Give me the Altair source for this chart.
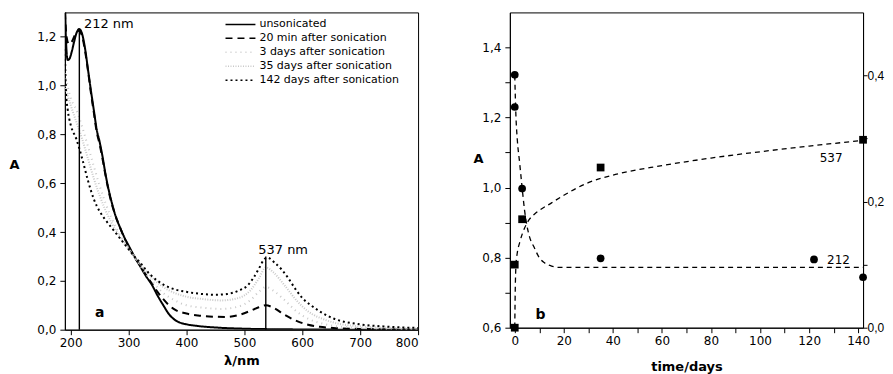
import altair as alt
import pandas as pd

FONT = "DejaVu Sans"

# ---------------- panel a : spectra ----------------
series_names = ["unsonicated", "20 min after sonication", "3 days after sonication",
                "35 days after sonication", "142 days after sonication"]

wl_unson = [190, 192, 195, 198, 202, 206, 210, 215, 220, 225, 230, 235, 240, 245, 250, 255, 260, 265,
            270, 277, 285, 294, 300, 310, 320, 330, 340, 350, 360, 370, 380, 390, 400, 420, 450, 500,
            550, 600, 700, 800]
a_unson = [1.40, 1.18, 1.105, 1.11, 1.14, 1.18, 1.215, 1.232, 1.21, 1.15, 1.065, 0.98, 0.90, 0.82, 0.77,
           0.71, 0.64, 0.58, 0.53, 0.47, 0.42, 0.372, 0.345, 0.30, 0.26, 0.22, 0.185, 0.14, 0.10, 0.063,
           0.04, 0.028, 0.022, 0.015, 0.009, 0.004, 0.002, 0.001, 0.0, 0.0]

wl_20min = [190, 193, 197, 202, 208, 214, 220, 225, 230, 235, 240, 245, 250, 255, 260, 265, 270, 277,
            285, 294, 300, 310, 320, 330, 340, 350, 360, 370, 380, 400, 420, 450, 470, 490, 510, 525,
            537, 550, 570, 590, 610, 630, 660, 700, 800]
a_20min = [1.30, 1.20, 1.17, 1.18, 1.21, 1.225, 1.20, 1.14, 1.06, 0.97, 0.89, 0.81, 0.76, 0.70, 0.635,
           0.575, 0.525, 0.47, 0.42, 0.37, 0.34, 0.30, 0.262, 0.225, 0.19, 0.155, 0.125, 0.10, 0.082,
           0.066, 0.058, 0.053, 0.052, 0.06, 0.077, 0.092, 0.10, 0.09, 0.06, 0.036, 0.02, 0.012, 0.006,
           0.003, 0.001]

wl_3d = [190, 200, 210, 220, 230, 240, 250, 260, 270, 280, 290, 300, 320, 340, 360, 380, 400, 430, 460,
         490, 510, 525, 537, 550, 570, 590, 610, 640, 680, 750, 800]
a_3d = [1.05, 0.95, 0.90, 0.83, 0.75, 0.67, 0.59, 0.52, 0.46, 0.41, 0.37, 0.335, 0.26, 0.20, 0.15, 0.12,
        0.10, 0.09, 0.085, 0.095, 0.12, 0.155, 0.175, 0.16, 0.12, 0.075, 0.045, 0.022, 0.01, 0.004, 0.002]

wl_35d = [190, 200, 210, 220, 230, 240, 250, 260, 270, 280, 290, 300, 320, 340, 360, 380, 400, 430, 460,
          490, 510, 525, 537, 550, 570, 590, 610, 640, 680, 750, 800]
a_35d = [1.00, 0.92, 0.85, 0.78, 0.70, 0.62, 0.55, 0.49, 0.44, 0.40, 0.36, 0.33, 0.27, 0.215, 0.175, 0.15,
         0.135, 0.125, 0.12, 0.13, 0.16, 0.21, 0.255, 0.235, 0.18, 0.12, 0.075, 0.04, 0.018, 0.008, 0.005]

wl_142d = [190, 192, 195, 200, 210, 220, 230, 240, 250, 260, 270, 280, 290, 300, 310, 320, 330, 340,
           360, 380, 400, 420, 450, 470, 490, 505, 515, 525, 535, 540, 552, 565, 575, 590, 600, 615,
           630, 655, 700, 750, 800]
a_142d = [1.15, 0.97, 0.90, 0.84, 0.78, 0.70, 0.61, 0.535, 0.485, 0.45, 0.42, 0.39, 0.36, 0.33, 0.30,
          0.275, 0.245, 0.22, 0.185, 0.165, 0.155, 0.148, 0.143, 0.146, 0.16, 0.18, 0.21, 0.25, 0.29,
          0.295, 0.275, 0.245, 0.214, 0.16, 0.13, 0.10, 0.075, 0.045, 0.022, 0.012, 0.007]

peak_wl = [215, 537]
peak_a = [1.232, 0.30]
peak_base = [0.0, 0.0]

ann_a_text = ["212 nm", "537 nm"]
ann_a_x = [223, 524]
ann_a_y = [1.254, 0.328]

# ---------------- panel b : kinetics ----------------
t_212 = [0, 0, 3, 35, 122, 142]
a_212 = [1.322, 1.23, 0.997, 0.798, 0.795, 0.744]
t_537 = [0, 0, 3, 35, 142]
a_537 = [0.0, 0.1, 0.172, 0.254, 0.298]

fit212_t = [0, 0.5, 1, 2, 3, 4, 5, 6, 8, 10, 12, 15, 18, 25, 50, 100, 142]
fit212_a = [1.32, 1.20, 1.14, 1.07, 1.0, 0.935, 0.89, 0.86, 0.828, 0.80, 0.786, 0.776, 0.772, 0.772,
            0.772, 0.772, 0.772]
fit537_t = [0, 0.2, 0.5, 1, 2, 3, 4, 6, 8, 10, 15, 20, 30, 40, 60, 80, 100, 120, 142]
fit537_a = [0.0, 0.06, 0.10, 0.118, 0.135, 0.148, 0.158, 0.172, 0.18, 0.186, 0.198, 0.21, 0.23, 0.242,
            0.257, 0.269, 0.279, 0.288, 0.297]

# ---------------- build tables ----------------
rows = []
for name, xs, ys in zip(series_names,
                        [wl_unson, wl_20min, wl_3d, wl_35d, wl_142d],
                        [a_unson, a_20min, a_3d, a_35d, a_142d]):
    for i, (x, y) in enumerate(zip(xs, ys)):
        rows.append({"series": name, "wl": x, "A": y, "i": i})
spec = pd.DataFrame(rows)
peaks = pd.DataFrame({"wl": peak_wl, "A": peak_a, "A0": peak_base})
ann_a = pd.DataFrame({"wl": ann_a_x, "A": ann_a_y, "t": ann_a_text})

xa_scale = alt.Scale(domain=[190, 800], nice=False, zero=False)
ya_scale = alt.Scale(domain=[0, 1.3], nice=False)
xa = alt.X("wl:Q", scale=xa_scale,
           axis=alt.Axis(title="λ/nm", values=list(range(200, 801, 50)),
                         labelExpr="datum.value % 100 == 0 ? datum.value : ''",
                         titleY=31, titleBaseline="middle"))
ya = alt.Y("A:Q", scale=ya_scale,
           axis=alt.Axis(title="A", values=[round(v * 0.1, 1) for v in range(0, 14)],
                         labelExpr="round(datum.value*10) % 2 == 0 ? replace(format(datum.value, '.1f'), '.', ',') : ''",
                         titleAngle=0, titleX=-51, titleY=152, titleAlign="center", titleBaseline="middle"))

leg = alt.Legend(title=None, orient="none", legendX=160, legendY=5,
                 symbolType="stroke", symbolSize=900, symbolStrokeWidth=1.5,
                 labelFont=FONT, labelFontSize=11, labelColor="black",
                 clipHeight=14, rowPadding=0, padding=0, labelOffset=3)

lines_a = alt.Chart(spec).mark_line(clip=True, interpolate="monotone").encode(
    x=xa, y=ya,
    order="i:Q",
    color=alt.Color("series:N", sort=series_names,
                    scale=alt.Scale(domain=series_names,
                                    range=["#000000", "#000000", "#c8c8c8", "#c8c8c8", "#000000"]),
                    legend=leg),
    strokeDash=alt.StrokeDash("series:N", sort=series_names,
                              scale=alt.Scale(domain=series_names,
                                              range=[[1, 0], [7, 5], [1, 4], [1, 1.5], [2, 3]]),
                              legend=leg),
)

rules_a = alt.Chart(peaks).mark_rule(color="black", strokeWidth=1.4).encode(
    x="wl:Q", y="A0:Q", y2="A:Q")

text_a = alt.Chart(ann_a).mark_text(align="left", baseline="middle", font=FONT, fontSize=13,
                                    color="black").encode(x="wl:Q", y="A:Q", text="t:N")
label_a = alt.Chart(pd.DataFrame({"wl": [250], "A": [0.07], "t": ["a"]})).mark_text(
    align="center", baseline="middle", font=FONT, fontSize=14, fontWeight="bold", color="black").encode(
    x="wl:Q", y="A:Q", text="t:N")

panel_a = alt.layer(lines_a, rules_a, text_a, label_a).properties(width=354, height=318)

# panel b
pts212 = pd.DataFrame({"t": t_212, "A": a_212})
pts537 = pd.DataFrame({"t": t_537, "A": a_537})
f212 = pd.DataFrame({"t": fit212_t, "A": fit212_a})
f537 = pd.DataFrame({"t": fit537_t, "A": fit537_a})
txt_b = pd.DataFrame({"t": [129, 132], "A": [1.084, 0.794], "s": ["537", "212"]})
lbl_b = pd.DataFrame({"t": [10.5], "A": [0.637], "s": ["b"]})

xb_scale = alt.Scale(domain=[-2, 142], nice=False, zero=False)
xb_axis = alt.Axis(title="time/days", values=list(range(0, 141, 10)),
                   labelExpr="datum.value % 20 == 0 ? datum.value : ''",
                   titleY=39, titleBaseline="middle")
yl_scale = alt.Scale(domain=[0.6, 1.5], nice=False, zero=False)
yl_axis = alt.Axis(title="A", values=[round(0.6 + v * 0.1, 1) for v in range(0, 9)],
                   labelExpr="round(datum.value*10) % 2 == 0 ? replace(format(datum.value, '.1f'), '.', ',') : ''",
                   titleAngle=0, titleX=-32, titleY=146, titleAlign="center", titleBaseline="middle")
yr_scale = alt.Scale(domain=[0, 0.5], nice=False)
yr_axis = alt.Axis(title=None, orient="right", values=[0, 0.1, 0.2, 0.3, 0.4],
                   tickSize=4, labelPadding=0, labelFont="Liberation Sans", labelFontSize=12,
                   labelExpr="round(datum.value*10) % 2 == 0 ? replace(format(datum.value, '.1f'), '.', ',') : ''")

xb = alt.X("t:Q", scale=xb_scale, axis=xb_axis)
yl = alt.Y("A:Q", scale=yl_scale, axis=yl_axis)
yr = alt.Y("A:Q", scale=yr_scale, axis=yr_axis)

fit1 = alt.Chart(f212).mark_line(color="black", strokeDash=[5, 4], strokeWidth=1.3,
                                 interpolate="monotone").encode(x=xb, y=yl)
circ = alt.Chart(pts212).mark_circle(color="black", size=60, opacity=1).encode(x=xb, y=yl)
tb = alt.Chart(txt_b).mark_text(font=FONT, fontSize=12, color="black", align="center",
                                baseline="middle").encode(x=xb, y=yl, text="s:N")
lb = alt.Chart(lbl_b).mark_text(font=FONT, fontSize=14, fontWeight="bold", color="black",
                                align="center", baseline="middle").encode(x=xb, y=yl, text="s:N")
left_layer = alt.layer(fit1, circ, tb, lb)

fit2 = alt.Chart(f537).mark_line(color="black", strokeDash=[5, 4], strokeWidth=1.3,
                                 interpolate="monotone").encode(x=xb, y=yr)
sq = alt.Chart(pts537).mark_square(color="black", size=60, opacity=1).encode(x=xb, y=yr)
right_layer = alt.layer(fit2, sq)

panel_b = alt.layer(left_layer, right_layer).resolve_scale(y="independent").properties(width=354, height=316)

chart = alt.hconcat(panel_a, panel_b, spacing=53).properties(
    padding={"left": 0, "top": 3, "right": 0, "bottom": 0}
).configure_view(stroke="black", strokeWidth=1).configure_axis(
    labelFont=FONT, labelFontSize=12, labelColor="black", titleFont=FONT, titleFontSize=13,
    titleFontWeight="bold", titleColor="black", domainColor="black", tickColor="black",
    tickSize=5, labelPadding=3, grid=False, domainWidth=1, tickWidth=1
).configure_axisY(labelPadding=4)

chart.save("out.html", embed_options={"renderer": "svg", "actions": False})
